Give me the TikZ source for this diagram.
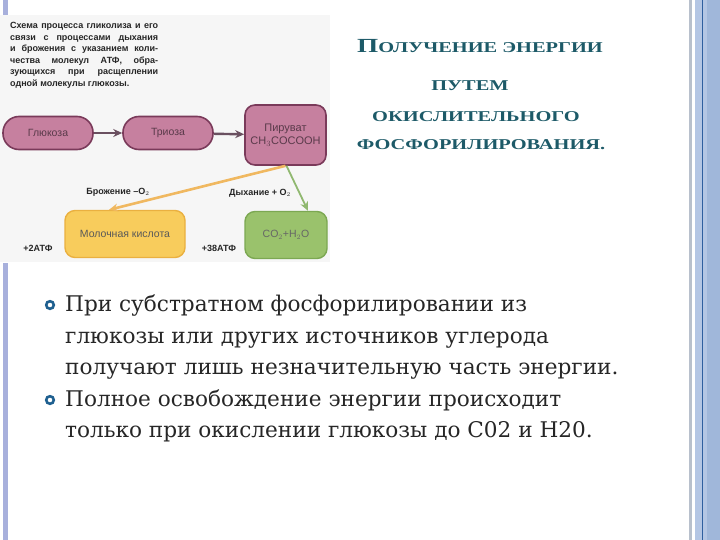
\documentclass[tikz,border=0pt]{standalone}
\usepackage{fontspec}
\usetikzlibrary{arrows.meta}
\setmainfont{DejaVu Serif}
\newfontfamily\titlefont[FakeStretch=1.36]{Liberation Serif}
\newfontfamily\schemefont{Liberation Sans}
\definecolor{barblue}{HTML}{A8B0DC}
\definecolor{bargray}{HTML}{B8C0CC}
\definecolor{barlight}{HTML}{B4C6E4}
\definecolor{bardark}{HTML}{2F5F9F}
\definecolor{picbg}{HTML}{F6F6F6}
\definecolor{titleteal}{HTML}{1D5A68}
\definecolor{ringblue}{HTML}{1F6090}
\definecolor{pinkfill}{HTML}{C6809F}
\definecolor{pinkedge}{HTML}{7A3A5A}
\definecolor{pinktext}{HTML}{5A3A4A}
\definecolor{yellowfill}{HTML}{F8CC5C}
\definecolor{yellowedge}{HTML}{EAB040}
\definecolor{greenfill}{HTML}{9AC26C}
\definecolor{greenedge}{HTML}{7CA852}
\definecolor{arrowgray}{HTML}{6A5060}
\definecolor{arroworange}{HTML}{F0B860}
\definecolor{arrowgreen}{HTML}{90B870}
\newcommand\titleinit[1]{{\fontsize{20}{20}\selectfont #1}}
\tikzset{
  stage/.style={draw=pinkedge, fill=pinkfill, line width=1.6pt, rounded corners=16pt,
    minimum width=90pt, minimum height=33pt, text=pinktext,
    font=\schemefont\fontsize{10.5}{12}\selectfont},
  product/.style={line width=1.4pt, rounded corners=10pt, minimum height=47pt,
    font=\schemefont\fontsize{10.5}{12}\selectfont},
  note/.style={font=\schemefont\bfseries\fontsize{9}{11.6}\selectfont, text=black!85},
  titleline/.style={anchor=base, text=titleteal, font=\titlefont\bfseries\fontsize{15}{15}\selectfont},
  bodyline/.style={anchor=base west, inner sep=0pt, font=\fontsize{21.6}{24}\selectfont, text=black!85},
  ring/.style={draw=ringblue, line width=2.6pt}
}
\begin{document}
\begin{tikzpicture}[x=1pt,y=-1pt,>={Stealth[length=9pt,width=8pt]}]
\useasboundingbox (0,0) rectangle (720,540);
% frame of the slide
\fill[barblue] (3,0) rectangle (7.5,15);
\fill[barblue] (3,263) rectangle (7.5,540);
\fill[bargray] (689,0) rectangle (692,540);
\fill[barlight] (695,0) rectangle (720,540);
\fill[barlight!85!bardark] (707,0) rectangle (720,540);
\fill[bardark] (702,0) rectangle (703.2,540);
% scheme
\fill[picbg] (0,15) rectangle (330,262);
\node[note, anchor=north west, inner sep=0pt, text width=148pt, align=justify] (caption) at (10,22)
  {Схема процесса гликолиза и его\linebreak связи с процессами дыхания\linebreak
   и брожения с указанием коли-\linebreak чества молекул АТФ, обра-\linebreak
   зующихся при расщеплении\linebreak одной молекулы глюкозы.};
\node[stage] (glucose) at (48,133) {Глюкоза};
\node[stage] (triose) at (168,133) {Триоза};
\node[stage, rounded corners=10pt, minimum width=81pt, minimum height=60pt, align=center,
  font=\schemefont\fontsize{11}{13}\selectfont] (pyruvate) at (285.5,135)
  {Пируват\\CH$_3$COCOOH};
\node[product, draw=yellowedge, fill=yellowfill, minimum width=120pt, text=black!65] (lactate) at (125,234) {Молочная кислота};
\node[product, draw=greenedge, fill=greenfill, minimum width=82pt, text=black!60] (water) at (286,235) {CO$_2$+H$_2$O};
\draw[->, arrowgray, line width=2.4pt] (glucose) -- (triose);
\draw[->, arrowgray, line width=2.4pt] (triose) -- (pyruvate);
\draw[->, arroworange, line width=2.6pt] (pyruvate.south) -- ([xshift=-16pt]lactate.north);
\draw[->, arrowgreen, line width=1.8pt] ([xshift=1pt]pyruvate.south) -- ([xshift=22pt]water.north);
\node[note] (ferment) at (118,192) {Брожение –O$_2$};
\node[note] (breath) at (260,193) {Дыхание + O$_2$};
\node[note] (atpa) at (38,248) {+2АТФ};
\node[note] (atpb) at (219,248) {+38АТФ};
% title
\node[titleline] (title1) at (480,53) {\titleinit{П}ОЛУЧЕНИЕ ЭНЕРГИИ};
\node[titleline] (title2) at (470,91) {ПУТЕМ};
\node[titleline] (title3) at (476,122) {ОКИСЛИТЕЛЬНОГО};
\node[titleline] (title4) at (481,150) {ФОСФОРИЛИРОВАНИЯ.};
% bullets
\draw[ring] (50,305) circle (3.8pt);
\draw[ring] (50,400) circle (3.8pt);
\node[bodyline] (line1) at (65,311) {При субстратном фосфорилировании из};
\node[bodyline] (line2) at (65,343) {глюкозы или других источников углерода};
\node[bodyline] (line3) at (65,374) {получают лишь незначительную часть энергии.};
\node[bodyline] (line4) at (65,406) {Полное освобождение энергии происходит};
\node[bodyline] (line5) at (65,437) {только при окислении глюкозы до C02 и H20.};
\end{tikzpicture}
\end{document}
